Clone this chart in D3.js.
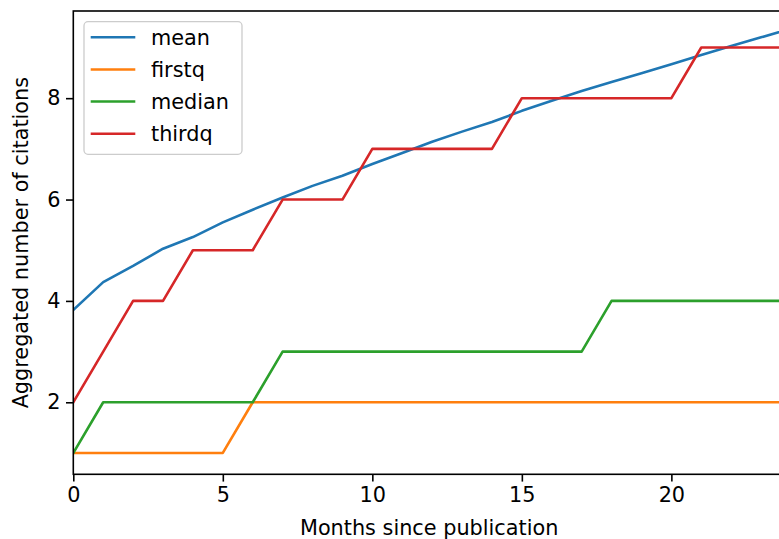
<!DOCTYPE html>
<html>
<head>
<meta charset="utf-8">
<script src="https://cdn.jsdelivr.net/npm/d3@7"></script>
<style>
  html, body { margin: 0; padding: 0; background: #fff; }
  svg { display: block; }
  text { font-family: "DejaVu Sans", sans-serif; fill: #000; }
</style>
</head>
<body>
<svg id="chart" width="779" height="539"></svg>
<script>
// ---- data ----
const months = [0,1,2,3,4,5,6,7,8,9,10,11,12,13,14,15,16,17,18,19,20,21,22,23,24];
const mean   = [3.82,4.37,4.69,5.03,5.26,5.55,5.80,6.04,6.27,6.47,6.70,6.92,7.14,7.34,7.53,7.75,7.95,8.14,8.32,8.49,8.67,8.85,9.03,9.20,9.37];
const firstq = [1,1,1,1,1,1,2,2,2,2,2,2,2,2,2,2,2,2,2,2,2,2,2,2,2];
const median = [1,2,2,2,2,2,2,3,3,3,3,3,3,3,3,3,3,3,4,4,4,4,4,4,4];
const thirdq = [2,3,4,4,5,5,5,6,6,6,7,7,7,7,7,8,8,8,8,8,8,9,9,9,9];
const seriesNames = ["mean","firstq","median","thirdq"];
const seriesColors = ["#1f77b4","#ff7f0e","#2ca02c","#d62728"];
const xTicks = [0,5,10,15,20];
const yTicks = [2,4,6,8];
const xLabel = "Months since publication";
const yLabel = "Aggregated number of citations";

// ---- layout ----
const L = 73.3, T = 11, R = 785, B = 474.3;
const FS = 20.8;
const svg = d3.select("#chart");
svg.append("rect").attr("width",779).attr("height",539).attr("fill","#fff");

const x = d3.scaleLinear().domain([0, 23.8]).range([L, R]);
const y = d3.scaleLinear().domain([0.579, 9.72]).range([B, T]);

svg.append("defs").append("clipPath").attr("id","clip")
  .append("rect").attr("x",L).attr("y",T).attr("width",R-L).attr("height",B-T);

const allSeries = [mean, firstq, median, thirdq];
const line = d3.line().x((d,i)=>x(months[i])).y(d=>y(d));
const g = svg.append("g").attr("clip-path","url(#clip)");
allSeries.forEach((s,k)=>{
  g.append("path").datum(s).attr("d", line)
    .attr("fill","none").attr("stroke",seriesColors[k])
    .attr("stroke-width",2.6).attr("stroke-linejoin","round").attr("stroke-linecap","square");
});

// axes
const xAxis = d3.axisBottom(x).tickValues(xTicks).tickSize(7.3).tickPadding(5.5).tickFormat(d3.format("d"));
const yAxis = d3.axisLeft(y).tickValues(yTicks).tickSize(7.3).tickPadding(5.5).tickFormat(d3.format("d"));
const gx = svg.append("g").attr("transform",`translate(0,${B})`).call(xAxis);
const gy = svg.append("g").attr("transform",`translate(${L},0)`).call(yAxis);
[gx, gy].forEach(ga=>{
  ga.select(".domain").remove();
  ga.selectAll(".tick line").attr("stroke","#000").attr("stroke-width",1.6);
  ga.selectAll(".tick text").attr("font-size",FS).attr("font-family","DejaVu Sans").attr("fill","#000");
});

// spines
svg.append("rect").attr("x",L).attr("y",T).attr("width",R-L).attr("height",B-T)
  .attr("fill","none").attr("stroke","#000").attr("stroke-width",1.6);

// axis labels
svg.append("text").attr("x",(L+R)/2).attr("y",535).attr("text-anchor","middle")
  .attr("font-size",FS).text(xLabel);
svg.append("text").attr("transform",`translate(28,${(T+B)/2}) rotate(-90)`)
  .attr("text-anchor","middle").attr("font-size",FS).text(yLabel);

// legend
const lg = svg.append("g");
lg.append("rect").attr("x",84).attr("y",21.7).attr("width",158).attr("height",132.6)
  .attr("rx",4).attr("fill","#fff").attr("fill-opacity",0.8)
  .attr("stroke","#cccccc").attr("stroke-width",1.3);
const rowY = d3.scaleLinear().domain([0,3]).range([37.3,133.7]);
seriesNames.forEach((name,k)=>{
  const cy = rowY(k);
  lg.append("line").attr("x1",92).attr("x2",134).attr("y1",cy).attr("y2",cy)
    .attr("stroke",seriesColors[k]).attr("stroke-width",2.6).attr("stroke-linecap","square");
  lg.append("text").attr("x",151).attr("y",cy+7.5).attr("font-size",FS).text(name);
});
</script>
</body>
</html>
